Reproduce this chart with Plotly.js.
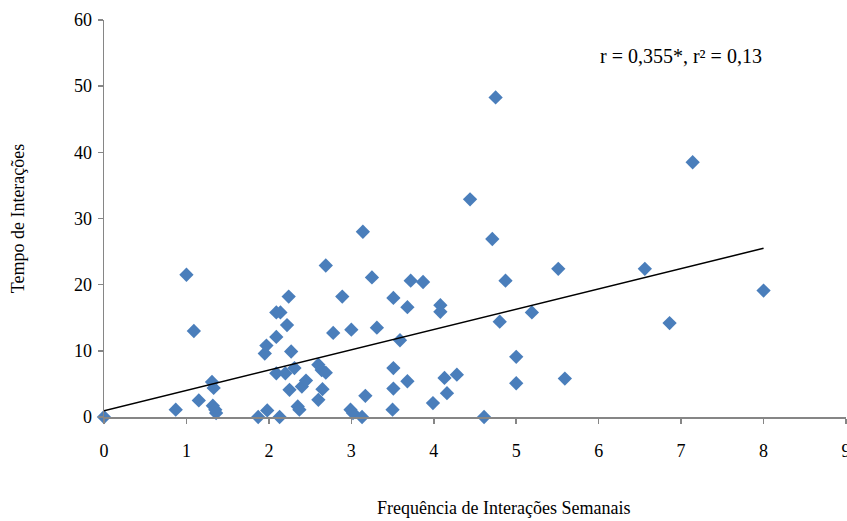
<!DOCTYPE html>
<html>
<head>
<meta charset="utf-8">
<script src="https://cdn.plot.ly/plotly-3.0.1.min.js"></script>
<style>html,body{margin:0;padding:0;background:#fff;}#chart{width:847px;height:521px;}</style>
</head>
<body>
<div id="chart"></div>
<script>
const freqSemanal = [0, 0.87, 1.0, 1.09, 1.15, 1.31, 1.33, 1.32, 1.35, 1.36,
  1.87, 1.98, 2.13, 1.95, 1.97, 2.09, 2.09, 2.14, 2.09, 2.20, 2.22, 2.25, 2.24, 2.27,
  2.31, 2.35, 2.37, 2.40, 2.45, 2.60, 2.64, 2.69, 2.65, 2.60, 2.69, 2.78, 2.89,
  3.00, 2.99, 3.02, 3.13, 3.17, 3.25, 3.31, 3.14, 3.51, 3.51, 3.51, 3.50, 3.59,
  3.68, 3.68, 3.72, 3.87, 3.99, 4.08, 4.08, 4.13, 4.16, 4.28, 4.44, 4.71, 4.75,
  4.61, 4.80, 4.87, 5.00, 5.00, 5.19, 5.51, 5.59, 6.56, 6.86, 7.14, 8.0];
const tempoInteracoes = [0, 1.1, 21.5, 13.0, 2.5, 5.3, 4.4, 1.7, 1.1, 0.6,
  0, 1.0, 0, 9.6, 10.8, 12.1, 15.8, 15.8, 6.6, 6.6, 13.9, 4.1, 18.2, 9.9,
  7.4, 1.6, 1.1, 4.6, 5.5, 7.9, 7.1, 6.7, 4.2, 2.6, 22.9, 12.7, 18.2,
  13.2, 1.1, 0.6, 0, 3.2, 21.1, 13.5, 28.0, 18.0, 7.4, 4.3, 1.1, 11.6,
  16.6, 5.4, 20.6, 20.4, 2.1, 16.9, 15.9, 5.9, 3.6, 6.4, 32.9, 26.9, 48.3,
  0, 14.4, 20.6, 9.1, 5.1, 15.8, 22.4, 5.8, 22.4, 14.2, 38.5, 19.1];
const trendX = [0, 8];
const trendY = [0.95, 25.5];
const xTicks = [0, 1, 2, 3, 4, 5, 6, 7, 8, 9];
const yTicks = [0, 10, 20, 30, 40, 50, 60];
const statText = "r = 0,355*, r² = 0,13";
const xTitle = "Frequência de Interações Semanais";
const yTitle = "Tempo de Interações";

const serif = "Liberation Serif, Times New Roman, serif";

const traces = [
  {x: freqSemanal, y: tempoInteracoes, type: 'scatter', mode: 'markers',
   marker: {symbol: 'diamond', size: 11, color: '#4A7EBB', line: {width: 0}},
   hoverinfo: 'none', showlegend: false, cliponaxis: false},
  {x: trendX, y: trendY, type: 'scatter', mode: 'lines',
   line: {color: '#000000', width: 1.5}, hoverinfo: 'none', showlegend: false}
];

const layout = {
  width: 847, height: 521,
  margin: {l: 104, r: 1, t: 20, b: 104},
  paper_bgcolor: '#ffffff', plot_bgcolor: '#ffffff',
  font: {family: serif, size: 18, color: '#000000'},
  xaxis: {range: [0, 9], tickvals: xTicks, ticktext: xTicks.map(String),
    showgrid: false, zeroline: false, showline: true, linecolor: '#868686', linewidth: 1.5,
    ticks: 'outside', ticklen: 5, tickcolor: '#868686', tickwidth: 1.5,
    tickfont: {family: serif, size: 18}, ticklabeloverflow: 'allow', ticklabelstandoff: 12,
    automargin: false},
  yaxis: {range: [0, 60], tickvals: yTicks, ticktext: yTicks.map(String),
    showgrid: false, zeroline: false, showline: true, linecolor: '#868686', linewidth: 1.5,
    ticks: 'outside', ticklen: 5, tickcolor: '#868686', tickwidth: 1.5,
    tickfont: {family: serif, size: 18}, ticklabelstandoff: 2,
    title: {text: yTitle, font: {family: serif, size: 18}, standoff: 44},
    automargin: false},
  annotations: [
    {x: 7.0, y: 54.5, xref: 'x', yref: 'y', text: statText, showarrow: false,
     font: {family: serif, size: 20, color: '#000000'}},
    {x: 0.539, y: -0.229, xref: 'paper', yref: 'paper', xanchor: 'center', yanchor: 'middle',
     text: xTitle, showarrow: false, font: {family: serif, size: 18, color: '#000000'}}
  ]
};

Plotly.newPlot('chart', traces, layout, {staticPlot: true});
</script>
</body>
</html>
